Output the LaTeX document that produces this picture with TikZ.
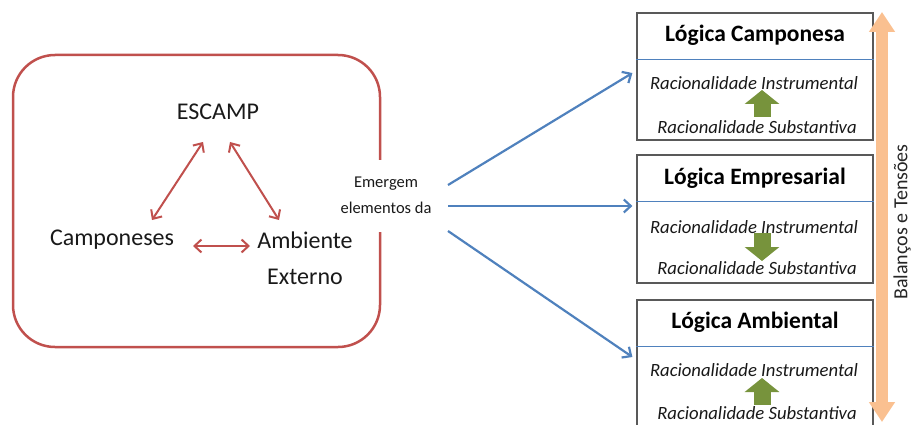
\documentclass[tikz,border=0pt]{standalone}
\usepackage{fontspec}
\setmainfont{Carlito}
\usetikzlibrary{arrows.meta}
\definecolor{escred}{HTML}{C0504D}
\definecolor{escblue}{HTML}{4F81BD}
\definecolor{escgreen}{HTML}{77933C}
\definecolor{escorange}{HTML}{FAC090}
\definecolor{escgray}{HTML}{595959}

\begin{document}
\begin{tikzpicture}[x=1pt,y=-1pt]
\useasboundingbox (0,0) rectangle (913,425);
\clip (0,0) rectangle (913,425);

% red frame, open where the label sits
\draw[escred, line width=2.5pt, rounded corners=42pt]
    (380,160) -- (380,55) -- (13,55) -- (13,347) -- (380,347) -- (380,232);

\begin{scope}[every node/.style={text=black!90, font=\fontsize{24}{36}\selectfont}]
    \node (E) at (218,112) {ESCAMP};
    \node (C) at (112,240) {Camponeses};
    \node[align=center] (A) at (305,258) {Ambiente\\Externo};
\end{scope}

\node[text=black!90, align=center, font=\fontsize{16.5}{26}\selectfont] (em) at (386,195) {Emergem\\elementos da};

\begin{scope}[every node/.style={draw=escgray, line width=1.2pt, minimum width=236pt}]
    \node[minimum height=127pt] (LC) at (755,76.5) {};
    \node[minimum height=128pt] (LE) at (755,219) {};
    \node[minimum height=130pt] (LA) at (755,365) {};
\end{scope}

\draw[escblue, line width=0.8pt] ([yshift=-47pt]LC.north west) -- ([yshift=-47pt]LC.north east);
\draw[escblue, line width=0.8pt] ([yshift=-47pt]LE.north west) -- ([yshift=-47pt]LE.north east);
\draw[escblue, line width=0.8pt] ([yshift=-47pt]LA.north west) -- ([yshift=-47pt]LA.north east);

\begin{scope}[every node/.style={text=black, font=\fontsize{23.5}{26}\selectfont\bfseries}]
    \node (TC) at (755,35) {Lógica Camponesa};
    \node (TE) at (755,178) {Lógica Empresarial};
    \node (TA) at (755,322) {Lógica Ambiental};
\end{scope}

\begin{scope}[every node/.style={text=black!90, font=\fontsize{18.7}{22}\selectfont\itshape}]
    \node (RI1) at (754,83) {Racionalidade Instrumental};
    \node (RS1) at (757,127) {Racionalidade Substantiva};
    \node (RI2) at (754,227) {Racionalidade Instrumental};
    \node (RS2) at (757,268) {Racionalidade Substantiva};
    \node (RI3) at (754,370) {Racionalidade Instrumental};
    \node (RS3) at (757,413) {Racionalidade Substantiva};
\end{scope}

\coordinate (bt) at (882,12);
\coordinate (bb) at (882,422);
\node[rotate=90, text=black!85, font=\fontsize{20}{22}\selectfont] (bal) at (902,222) {Balanços e Tensões};

\begin{scope}[relation/.style={draw=escred, line width=2pt, {Straight Barb[length=7pt,width=13pt]}-{Straight Barb[length=7pt,width=13pt]}},
              flowarrow/.style={draw=escblue, line width=2.2pt, -{Straight Barb[length=7pt,width=13pt]}},
              change/.style={draw=escgreen, line width=17pt, -{Triangle[width=34pt,length=14pt]}},
              balarrow/.style={draw=escorange, line width=12pt, {Triangle[width=25pt,length=20pt]}-{Triangle[width=25pt,length=20pt]}}]
    \path [relation] ([shift={(-15,30)}]E.center) -- ([shift={(40,-20)}]C.center);
    \path [relation] ([shift={(12,30)}]E.center) -- ([shift={(-26,-38)}]A.center);
    \path [relation] ([shift={(81,6)}]C.center) -- ([shift={(-55,-12)}]A.center);

    \path [flowarrow] ([shift={(62,-10)}]em.center) -- ([shift={(-4,-3.5)}]LC.west);
    \path [flowarrow] ([shift={(62,11)}]em.center) -- ([shift={(-4,-13)}]LE.west);
    \path [flowarrow] ([shift={(62,36)}]em.center) -- ([shift={(-4,-8)}]LA.west);

    \path [change] ([shift={(5,-10)}]RS1.center) -- ([shift={(8,7)}]RI1.center);
    \path [change] ([shift={(8,6)}]RI2.center) -- ([shift={(5,-7)}]RS2.center);
    \path [change] ([shift={(5,-8)}]RS3.center) -- ([shift={(8,8)}]RI3.center);

    \path [balarrow] (bt) -- (bb);
\end{scope}
\end{tikzpicture}
\end{document}
